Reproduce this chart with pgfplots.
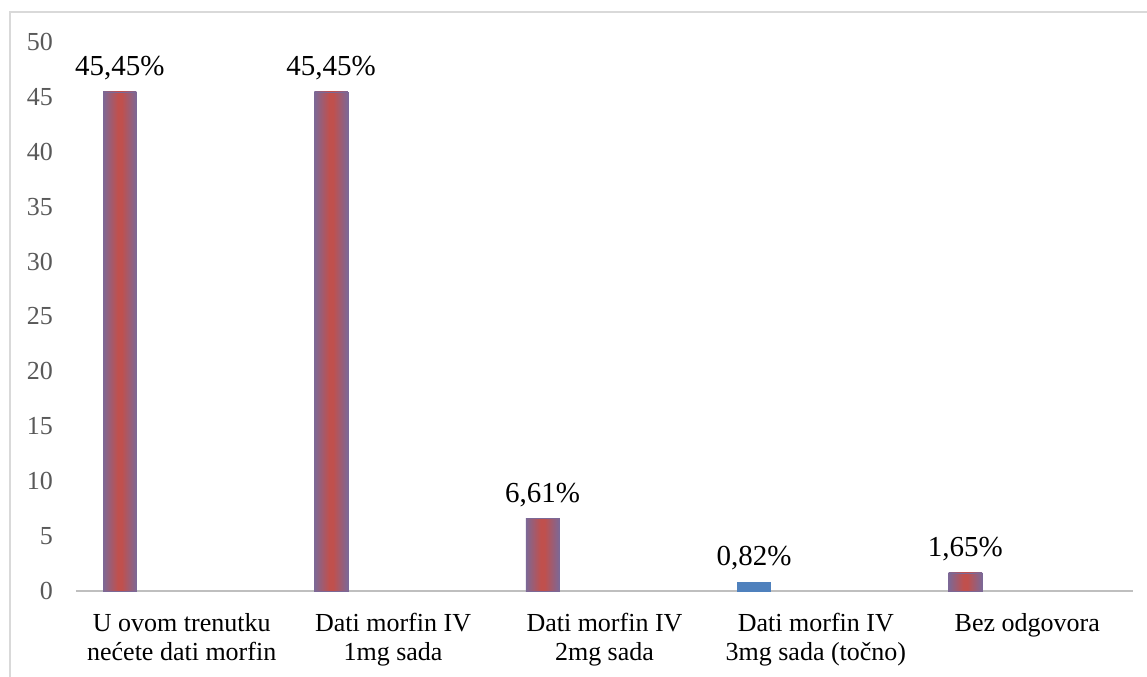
\documentclass[border=0pt]{standalone}
\usepackage{pgfplots}
\pgfplotsset{compat=1.18}
\usepackage{fontspec}
\setmainfont{Liberation Serif}

\definecolor{barred}{RGB}{192,80,77}
\definecolor{baredge}{RGB}{124,104,150}
\definecolor{barblue}{RGB}{79,129,189}
\definecolor{axisgray}{RGB}{191,191,191}
\definecolor{framegray}{RGB}{217,217,217}
\definecolor{ticktext}{RGB}{89,89,89}

% red in the middle, purple towards both sides (the 25bp..75bp part covers the bar)
\pgfdeclarehorizontalshading{barshade}{100bp}{color(0bp)=(baredge); color(25bp)=(baredge);
    color(47bp)=(barred); color(53bp)=(barred); color(75bp)=(baredge); color(100bp)=(baredge)}

\pgfplotsset{redbar/.style={draw=baredge, line width=0.3pt, shading=barshade}}

\begin{document}
\begin{tikzpicture}
% page = 1147x676 px at 0.5pt per px, origin at the axis' lower left corner
\useasboundingbox (-38pt,-42.5pt) rectangle (535.5pt,295.5pt);
\draw[framegray, line width=0.8pt] (-33pt,-60pt) -- (-33pt,289.5pt) -- (560pt,289.5pt);
\begin{axis}[
    scale only axis,
    width=528.5pt, height=274.5pt,
    xmin=-0.5, xmax=4.5,
    ymin=0, ymax=50,
    axis line style={draw=none},
    major tick length=0pt,
    ytick={0,5,...,50},
    xtick={0,1,2,3,4},
    xticklabels={{U ovom trenutku\\nećete dati morfin},
                 {Dati morfin IV\\1mg sada},
                 {Dati morfin IV\\2mg sada},
                 {Dati morfin IV\\3mg sada (točno)},
                 {Bez odgovora}},
    xticklabel style={align=center, font=\fontsize{13}{14.5}\selectfont, yshift=-7.5pt},
    yticklabel style={font=\fontsize{13}{15}\selectfont, text=ticktext, xshift=-8pt},
    /pgf/number format/assume math mode=true,
    ybar, bar width=0.158, bar shift=0pt,
    nodes near coords={\pgfmathprintnumber[fixed,fixed zerofill,precision=2,use comma]{\pgfplotspointmeta}\%},
    nodes near coords style={font=\fontsize{14.5}{16}\selectfont, text=black, yshift=2.5pt},
]
\draw[axisgray, line width=1pt] (rel axis cs:0,0) -- (rel axis cs:1,0);

% red bars, one plot each so that every bar gets its own gradient
\addplot[redbar] coordinates {(-0.293, 45.45)};
\addplot[redbar] coordinates {(0.707, 45.45)};
\addplot[redbar] coordinates {(1.707, 6.61)};
\addplot[redbar] coordinates {(3.707, 1.65)};

% blue bar (correct answer)
\addplot[draw=barblue, fill=barblue] coordinates {(2.707, 0.82)};
\end{axis}
\end{tikzpicture}
\end{document}
